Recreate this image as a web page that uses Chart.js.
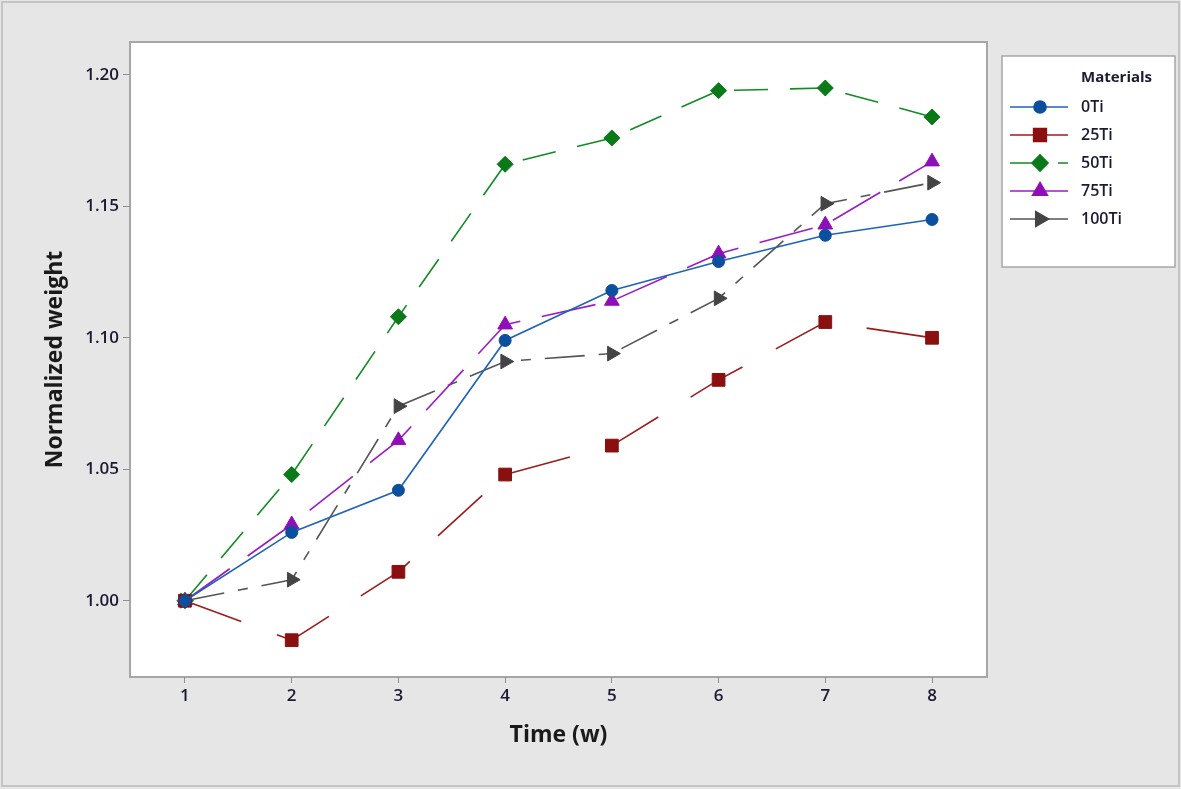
<!DOCTYPE html>
<html>
<head>
<meta charset="utf-8">
<script src="https://cdn.jsdelivr.net/npm/chart.js@4.4.0/dist/chart.umd.min.js"></script>
<style>
  html, body { margin: 0; padding: 0; background: #e6e6e6; }
  #wrap { width: 1181px; height: 789px; position: relative; }
</style>
</head>
<body>
<div id="wrap"><canvas id="chart" width="1181" height="789"></canvas></div>
<script>
// weeks and normalized weights
const weeks = [1, 2, 3, 4, 5, 6, 7, 8]
const ti0 = [1.000, 1.026, 1.042, 1.099, 1.118, 1.129, 1.139, 1.145]
const ti25 = [1.000, 0.985, 1.011, 1.048, 1.059, 1.084, 1.106, 1.100]
const ti50 = [1.000, 1.048, 1.108, 1.166, 1.176, 1.194, 1.195, 1.184]
const ti75 = [1.000, 1.029, 1.061, 1.105, 1.114, 1.132, 1.143, 1.167]
const ti100 = [1.000, 1.008, 1.074, 1.091, 1.094, 1.115, 1.151, 1.159]
const yTicks = [1.00, 1.05, 1.10, 1.15, 1.20]

const toPts = (arr) => weeks.map((w, i) => ({ x: w, y: arr[i] }))

const series = [
  { label: '0Ti', data: ti0, color: '#1f63b8', marker: '#0b4f9e', style: 'circle', r: 6, dash: [], rot: 0 },
  { label: '25Ti', data: ti25, color: '#9c1c1c', marker: '#8a0f0f', style: 'rect', r: 9, dash: [60, 38], rot: 0 },
  { label: '50Ti', data: ti50, color: '#138a24', marker: '#0a7a18', style: 'rectRot', r: 8, dash: [34, 22], rot: 0 },
  { label: '75Ti', data: ti75, color: '#9a1cc4', marker: '#8e0fb8', style: 'triangle', r: 8.5, dash: [55, 22], rot: 0 },
  { label: '100Ti', data: ti100, color: '#555555', marker: '#444444', style: 'triangle', r: 8.5, dash: [40, 14, 10, 14], rot: 90 }
]

const frame = {
  id: 'frame',
  beforeDraw(chart) {
    const { ctx, chartArea: a } = chart
    ctx.save()
    ctx.fillStyle = '#e6e6e6'
    ctx.fillRect(0, 0, chart.width, chart.height)
    ctx.strokeStyle = '#c4c4c4'
    ctx.lineWidth = 2
    ctx.strokeRect(2, 2, chart.width - 4, chart.height - 5)
    ctx.fillStyle = '#ffffff'
    ctx.fillRect(a.left, a.top, a.right - a.left, a.bottom - a.top)
    ctx.strokeStyle = '#a6a6a6'
    ctx.lineWidth = 2
    ctx.strokeRect(a.left, a.top, a.right - a.left, a.bottom - a.top)
    ctx.restore()
  },
  afterDraw(chart) {
    const ctx = chart.ctx
    ctx.save()
    // legend box
    ctx.fillStyle = '#ffffff'
    ctx.fillRect(1002, 56, 173, 211)
    ctx.strokeStyle = '#a6a6a6'
    ctx.lineWidth = 1.5
    ctx.strokeRect(1002, 56, 173, 211)
    ctx.fillStyle = '#1a1a33'
    ctx.font = 'bold 15px "Open Sans"'
    ctx.textBaseline = 'middle'
    ctx.fillText('Materials', 1081, 78)
    series.forEach((s, i) => {
      const y = 107 + i * 28
      ctx.strokeStyle = s.color
      ctx.lineWidth = 1.6
      ctx.beginPath()
      if (s.label === '50Ti') {
        ctx.moveTo(1010, y); ctx.lineTo(1040, y)
        ctx.moveTo(1058, y); ctx.lineTo(1068, y)
      } else {
        ctx.moveTo(1010, y); ctx.lineTo(1068, y)
      }
      ctx.stroke()
      ctx.fillStyle = s.marker
      ctx.strokeStyle = s.marker
      Chart.helpers.drawPoint(ctx, { pointStyle: s.style, radius: s.r, rotation: s.rot, borderWidth: 1 }, 1040, y)
      ctx.fillStyle = '#1a1a33'
      ctx.font = '600 16px "Open Sans"'
      ctx.fillText(s.label, 1081, y)
    })
    ctx.restore()
  }
}

new Chart(document.getElementById('chart'), {
  type: 'line',
  data: {
    datasets: series.map(s => ({
      label: s.label,
      data: toPts(s.data),
      borderColor: s.color,
      backgroundColor: s.marker,
      pointBackgroundColor: s.marker,
      pointBorderColor: s.marker,
      borderWidth: 1.6,
      borderDash: s.dash,
      pointStyle: s.style,
      pointRadius: s.r,
      pointRotation: s.rot,
      pointBorderWidth: 1,
      tension: 0,
      fill: false
    }))
  },
  options: {
    responsive: false,
    animation: false,
    layout: { padding: { left: 38, right: 194, top: 42, bottom: 36 } },
    plugins: {
      legend: { display: false },
      tooltip: { enabled: false }
    },
    scales: {
      x: {
        type: 'linear',
        min: 0.485,
        max: 8.515,
        afterBuildTicks: (scale) => { scale.ticks = weeks.map(v => ({ value: v })) },
        afterFit: (scale) => { scale.height = 76 },
        grid: { drawOnChartArea: false, tickLength: 6, tickColor: '#909090' },
        border: { display: false },
        ticks: { color: '#1a1a33', font: { family: 'Open Sans', size: 17, weight: '600' }, padding: 3 },
        title: { display: true, text: 'Time (w)', color: '#1a1a1a', font: { family: 'Open Sans', size: 23, weight: 'bold' }, padding: { top: 4 } }
      },
      y: {
        min: 0.971,
        max: 1.2125,
        afterBuildTicks: (scale) => { scale.ticks = yTicks.map(v => ({ value: v })) },
        afterFit: (scale) => { scale.width = 92 },
        grid: { drawOnChartArea: false, tickLength: 7, tickColor: '#909090' },
        border: { display: false },
        ticks: { color: '#1a1a33', font: { family: 'Open Sans', size: 17, weight: '600' }, padding: 4, callback: (v) => v.toFixed(2) },
        title: { display: true, text: 'Normalized weight', color: '#1a1a1a', font: { family: 'Open Sans', size: 23, weight: 'bold' }, padding: { bottom: 4 } }
      }
    }
  },
  plugins: [frame]
})
</script>
</body>
</html>
